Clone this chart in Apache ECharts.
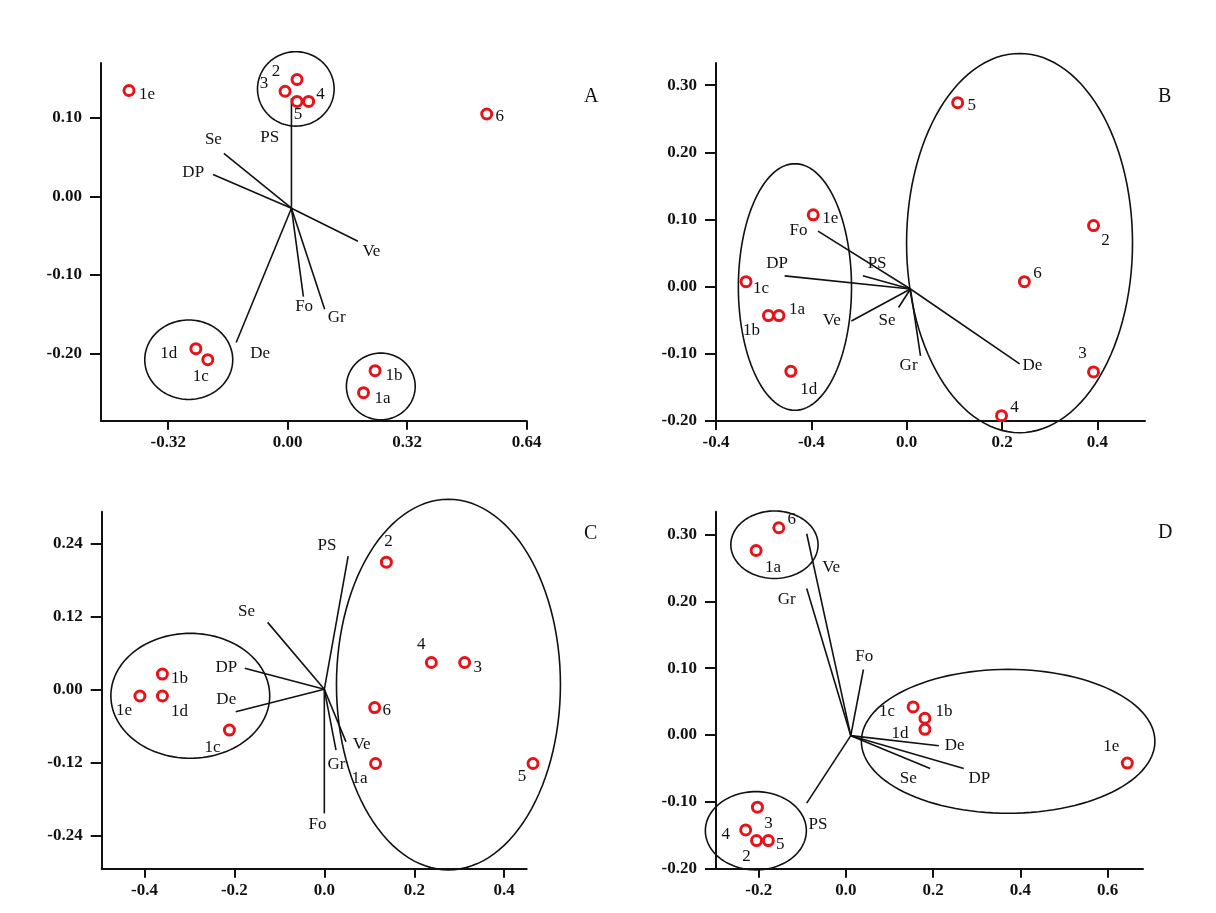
<!DOCTYPE html>
<html><head><meta charset="utf-8">
<script src="https://cdn.jsdelivr.net/npm/echarts@6/dist/echarts.min.js"></script>
<style>html,body{margin:0;padding:0;background:#fff}#c{width:1216px;height:913px}</style>
</head><body><div id="c"></div>
<script>
// ---------------- Panel A ----------------
const A_sites = ['1e','2','3','4','5','6','1d','1c','1b','1a'];
const A_x = [-0.425, 0.025, -0.007, 0.056, 0.025, 0.533, -0.246, -0.214, 0.234, 0.203];
const A_y = [0.135, 0.149, 0.134, 0.121, 0.121, 0.105, -0.194, -0.208, -0.222, -0.250];
const A_vars = ['PS','Se','DP','Ve','Fo','Gr','De'];
const A_varX = [0.010, -0.171, -0.200, 0.188, 0.042, 0.099, -0.138];
const A_varY = [0.125, 0.055, 0.028, -0.057, -0.1275, -0.1436, -0.186];
const A_varLabX = [-0.048, -0.199, -0.253, 0.224, 0.044, 0.131, -0.074];
const A_varLabY = [0.0745, 0.073, 0.030, -0.070, -0.140, -0.154, -0.200];
const A_origin = [0.010, -0.015];
const A_groupCx = [0.0217, -0.265, 0.2493];
const A_groupCy = [0.137, -0.208, -0.242];
const A_groupRx = [0.1026, 0.1178, 0.0921];
const A_groupRy = [0.0474, 0.0506, 0.0425];
const A_xTicks = [-0.32, 0, 0.32, 0.64];
const A_xTickText = ['-0.32', '0.00', '0.32', '0.64'];
const A_yTicks = [-0.2, -0.1, 0, 0.1];
const A_yTickText = ['-0.20', '-0.10', '0.00', '0.10'];

// ---------------- Panel B ----------------
const B_sites = ['5','2','6','3','4','1e','1c','1b','1a','1d'];
const B_x = [0.107, 0.392, 0.247, 0.392, 0.199, -0.196, -0.337, -0.290, -0.268, -0.243];
const B_y = [0.274, 0.091, 0.0075, -0.127, -0.192, 0.107, 0.0075, -0.043, -0.043, -0.126];
const B_vars = ['Fo','PS','DP','Ve','Se','Gr','De'];
const B_varX = [-0.186, -0.092, -0.256, -0.116, -0.017, 0.029, 0.237];
const B_varY = [0.0826, 0.0164, 0.016, -0.051, -0.031, -0.103, -0.115];
const B_varLabX = [-0.227, -0.062, -0.272, -0.157, -0.041, 0.004, 0.264];
const B_varLabY = [0.083, 0.035, 0.035, -0.051, -0.051, -0.118, -0.118];
const B_origin = [0.008, -0.0035];
const B_groupCx = [-0.2344, 0.2368];
const B_groupCy = [-0.0005, 0.0649];
const B_groupRx = [0.1187, 0.237];
const B_groupRy = [0.1836, 0.2823];
const B_xTicks = [-0.4, -0.2, 0, 0.2, 0.4];
const B_xTickText = ['-0.4', '-0.4', '0.0', '0.2', '0.4'];
const B_yTicks = [-0.2, -0.1, 0, 0.1, 0.2, 0.3];
const B_yTickText = ['-0.20', '-0.10', '0.00', '0.10', '0.20', '0.30'];

// ---------------- Panel C ----------------
const C_sites = ['2','4','3','6','1a','5','1b','1e','1d','1c'];
const C_x = [0.138, 0.238, 0.312, 0.112, 0.114, 0.464, -0.360, -0.410, -0.360, -0.211];
const C_y = [0.209, 0.044, 0.044, -0.030, -0.122, -0.122, 0.025, -0.011, -0.011, -0.067];
const C_vars = ['PS','Se','DP','De','Fo','Ve','Gr'];
const C_varX = [0.053, -0.126, -0.177, -0.197, 0.0, 0.048, 0.026];
const C_varY = [0.219, 0.110, 0.0345, -0.037, -0.204, -0.086, -0.100];
const C_varLabX = [0.006, -0.173, -0.218, -0.218, -0.015, 0.083, 0.027];
const C_varLabY = [0.237, 0.128, 0.036, -0.0175, -0.223, -0.0915, -0.124];
const C_origin = [0.0, 0.0];
const C_groupCx = [-0.298, 0.276];
const C_groupCy = [-0.0107, 0.0077];
const C_groupRx = [0.1766, 0.249];
const C_groupRy = [0.1027, 0.3047];
const C_xTicks = [-0.4, -0.2, 0, 0.2, 0.4];
const C_xTickText = ['-0.4', '-0.2', '0.0', '0.2', '0.4'];
const C_yTicks = [-0.24, -0.12, 0, 0.12, 0.24];
const C_yTickText = ['-0.24', '-0.12', '0.00', '0.12', '0.24'];

// ---------------- Panel D ----------------
const D_sites = ['6','1a','1c','1b','1d','1e','3','4','2','5'];
const D_x = [-0.154, -0.206, 0.154, 0.181, 0.181, 0.645, -0.203, -0.230, -0.205, -0.178];
const D_y = [0.310, 0.276, 0.042, 0.025, 0.0085, -0.042, -0.108, -0.142, -0.158, -0.158];
const D_vars = ['Ve','Gr','Fo','PS','De','DP','Se'];
const D_varX = [-0.090, -0.090, 0.040, -0.090, 0.213, 0.270, 0.193];
const D_varY = [0.301, 0.219, 0.098, -0.102, -0.016, -0.050, -0.050];
const D_varLabX = [-0.034, -0.136, 0.042, -0.064, 0.249, 0.306, 0.143];
const D_varLabY = [0.251, 0.202, 0.117, -0.134, -0.016, -0.065, -0.065];
const D_origin = [0.011, -0.001];
const D_groupCx = [-0.164, -0.2066, 0.3718];
const D_groupCy = [0.2846, -0.1432, -0.0095];
const D_groupRx = [0.100, 0.1158, 0.3365];
const D_groupRy = [0.0505, 0.0585, 0.1076];
const D_xTicks = [-0.2, 0, 0.2, 0.4, 0.6];
const D_xTickText = ['-0.2', '0.0', '0.2', '0.4', '0.6'];
const D_yTicks = [-0.2, -0.1, 0, 0.1, 0.2, 0.3];
const D_yTickText = ['-0.20', '-0.10', '0.00', '0.10', '0.20', '0.30'];

// ---------------- layout / style (not data) ----------------
const A_labelOffset = [[18,4],[-21,-8],[-21,-8],[12,-7],[1,13],[13,3],[-27,5],[-7,17],[19,5],[19,6]];
const B_labelOffset = [[14,3],[12,15],[13,-8],[-11,-18],[13,-8],[17,4],[15,7],[-17,15],[18,-6],[18,18]];
const C_labelOffset = [[2,-21],[-10,-18],[13,5],[12,3],[-16,15],[-11,13],[17,4],[-16,15],[17,16],[-17,17]];
const D_labelOffset = [[13,-8],[17,17],[-26,5],[19,-7],[-25,4],[-16,-17],[11,16],[-20,5],[-10,16],[12,4]];

const FONT = '"Liberation Serif", "Times New Roman", serif';
const RED = '#e6141a';

const panels = [
  {sites:A_sites, x:A_x, y:A_y, off:A_labelOffset, vars:A_vars, vx:A_varX, vy:A_varY, lx:A_varLabX, ly:A_varLabY, origin:A_origin,
   gcx:A_groupCx, gcy:A_groupCy, grx:A_groupRx, gry:A_groupRy, xt:A_xTicks, xtt:A_xTickText, yt:A_yTicks, ytt:A_yTickText,
   grid:{left:101, top:63, width:425.7, height:357.7}, xr:[-0.5, 0.64], yr:[-0.2857, 0.170], letter:'A', lp:[584, 87]},
  {sites:B_sites, x:B_x, y:B_y, off:B_labelOffset, vars:B_vars, vx:B_varX, vy:B_varY, lx:B_varLabX, ly:B_varLabY, origin:B_origin,
   gcx:B_groupCx, gcy:B_groupCy, grx:B_groupRx, gry:B_groupRy, xt:B_xTicks, xtt:B_xTickText, yt:B_yTicks, ytt:B_yTickText,
   grid:{left:716, top:63, width:429, height:358}, xr:[-0.4, 0.5], yr:[-0.2, 0.333], letter:'B', lp:[1158, 87]},
  {sites:C_sites, x:C_x, y:C_y, off:C_labelOffset, vars:C_vars, vx:C_varX, vy:C_varY, lx:C_varLabX, ly:C_varLabY, origin:C_origin,
   gcx:C_groupCx, gcy:C_groupCy, grx:C_groupRx, gry:C_groupRy, xt:C_xTicks, xtt:C_xTickText, yt:C_yTicks, ytt:C_yTickText,
   grid:{left:101.7, top:511.7, width:425, height:357}, xr:[-0.495, 0.45], yr:[-0.295, 0.292], letter:'C', lp:[584, 524]},
  {sites:D_sites, x:D_x, y:D_y, off:D_labelOffset, vars:D_vars, vx:D_varX, vy:D_varY, lx:D_varLabX, ly:D_varLabY, origin:D_origin,
   gcx:D_groupCx, gcy:D_groupCy, grx:D_groupRx, gry:D_groupRy, xt:D_xTicks, xtt:D_xTickText, yt:D_yTicks, ytt:D_yTickText,
   grid:{left:716, top:511.7, width:427, height:357}, xr:[-0.298, 0.681], yr:[-0.2, 0.334], letter:'D', lp:[1158, 523]}
];

function tickFmt(vals, texts) {
  return function (v) {
    const i = vals.findIndex(t => Math.abs(t - v) < 1e-9);
    return i >= 0 ? texts[i] : '';
  };
}

const option = {
  animation: false,
  backgroundColor: '#fff',
  grid: [], xAxis: [], yAxis: [], series: [], graphic: []
};

panels.forEach((p, k) => {
  option.grid.push(Object.assign({outerBoundsMode: 'none', containLabel: false}, p.grid));
  const axisCommon = {
    type: 'value', gridIndex: k, splitLine: {show: false},
    axisLine: {show: true, onZero: false, lineStyle: {color: '#111', width: 2}}
  };
  option.xAxis.push(Object.assign({}, axisCommon, {
    min: p.xr[0], max: p.xr[1],
    axisTick: {show: true, customValues: p.xt, length: 9, lineStyle: {color: '#111', width: 2}},
    axisLabel: {customValues: p.xt, formatter: tickFmt(p.xt, p.xtt), margin: 13, color: '#111',
      fontFamily: FONT, fontSize: 17, fontWeight: 'bold'}
  }));
  option.yAxis.push(Object.assign({}, axisCommon, {
    min: p.yr[0], max: p.yr[1],
    axisTick: {show: true, customValues: p.yt, length: 11, lineStyle: {color: '#111', width: 2}},
    axisLabel: {customValues: p.yt, formatter: tickFmt(p.yt, p.ytt), margin: 19, color: '#111',
      fontFamily: FONT, fontSize: 17, fontWeight: 'bold'}
  }));

  // group ellipses
  option.series.push({
    type: 'custom', xAxisIndex: k, yAxisIndex: k, clip: false, silent: true, z: 2,
    data: p.gcx.map((c, i) => [c, p.gcy[i], p.grx[i], p.gry[i]]),
    renderItem: function (params, api) {
      const cx = api.value(0), cy = api.value(1), rx = api.value(2), ry = api.value(3);
      const pts = [];
      for (let i = 0; i < 120; i++) {
        const t = i / 120 * 2 * Math.PI;
        pts.push(api.coord([cx + rx * Math.cos(t), cy + ry * Math.sin(t)]));
      }
      return {type: 'polygon', shape: {points: pts}, style: {fill: 'none', stroke: '#111', lineWidth: 1.6}};
    }
  });

  // variable vectors with their names
  const names = p.vars;
  option.series.push({
    type: 'custom', xAxisIndex: k, yAxisIndex: k, clip: false, silent: true, z: 3,
    data: p.vars.map((n, i) => [p.origin[0], p.origin[1], p.vx[i], p.vy[i], p.lx[i], p.ly[i]]),
    renderItem: function (params, api) {
      const o = api.coord([api.value(0), api.value(1)]);
      const e = api.coord([api.value(2), api.value(3)]);
      const l = api.coord([api.value(4), api.value(5)]);
      return {type: 'group', children: [
        {type: 'line', shape: {x1: o[0], y1: o[1], x2: e[0], y2: e[1]}, style: {stroke: '#111', lineWidth: 1.6}},
        {type: 'text', x: l[0], y: l[1], style: {text: names[params.dataIndex], fill: '#111',
          font: '17px ' + FONT, align: 'center', verticalAlign: 'middle'}}
      ]};
    }
  });

  // sites
  option.series.push({
    type: 'scatter', xAxisIndex: k, yAxisIndex: k, clip: false, z: 5,
    symbol: 'circle', symbolSize: 10,
    itemStyle: {color: '#fff', borderColor: RED, borderWidth: 3, opacity: 1},
    label: {show: true, position: 'inside', formatter: '{b}', color: '#111', fontFamily: FONT, fontSize: 17},
    data: p.sites.map((s, i) => ({name: s, value: [p.x[i], p.y[i]], label: {offset: p.off[i]}}))
  });

  option.graphic.push({type: 'text', left: p.lp[0], top: p.lp[1], silent: true,
    style: {text: p.letter, fill: '#111', font: '20px ' + FONT}});
});

const chart = echarts.init(document.getElementById('c'), null, {renderer: 'canvas'});
chart.setOption(option);
</script>
</body></html>
